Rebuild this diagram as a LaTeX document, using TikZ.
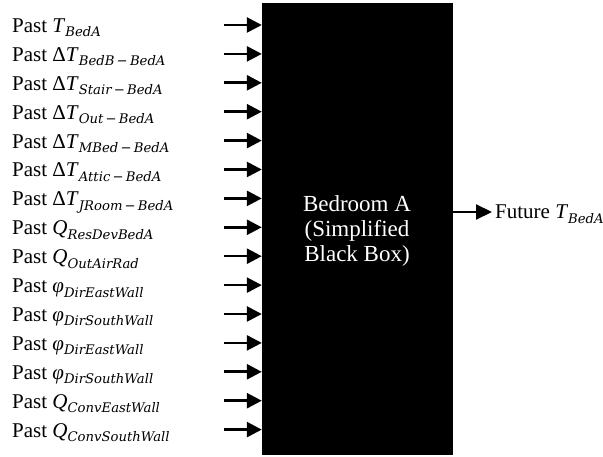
\documentclass[tikz,border=0pt]{standalone}
\usepackage{fontspec}
\setmainfont{Liberation Serif}
\newfontfamily\subf{DejaVu Serif}
\usetikzlibrary{arrows.meta}
\newcommand\sbs[1]{\raisebox{-4.5pt}{\fontsize{13.2}{14}\selectfont\subf\itshape #1}}
\newcommand\mi[1]{\textit{#1}}
\newcommand\mn{\,−\,}
\tikzset{
  lbl/.style={anchor=base west, inner sep=0pt, font=\fontsize{21}{24}\selectfont},
  arr/.style={line width=2.6pt, -{Triangle[length=15pt,width=15pt]}},
  oarr/.style={line width=2.1pt, -{Triangle[length=16pt,width=15pt]}},
  bbox/.style={fill=black, draw=none, minimum width=191pt, minimum height=452pt, inner sep=0pt},
  btext/.style={text=white, align=center, font=\fontsize{23}{25.5}\selectfont, anchor=base, inner sep=0pt}
}
\begin{document}
\begin{tikzpicture}[x=1pt,y=-1pt]
\useasboundingbox (0,0) rectangle (603,457);
\node[bbox] (box) at (357.5,229) {};
\node[btext] (bt) at (357,262) {Bedroom A\\(Simplified\\Black Box)};
\foreach \t [count=\i from 0] in {
  Past \mi{T}\sbs{BedA},
  Past Δ\mi{T}\sbs{BedB\mn BedA},
  Past Δ\mi{T}\sbs{Stair\mn BedA},
  Past Δ\mi{T}\sbs{Out\mn BedA},
  Past Δ\mi{T}\sbs{MBed\mn BedA},
  Past Δ\mi{T}\sbs{Attic\mn BedA},
  Past Δ\mi{T}\sbs{JRoom\mn BedA},
  Past \mi{Q}\sbs{ResDevBedA},
  Past \mi{Q}\sbs{OutAirRad},
  Past \mi{φ}\sbs{DirEastWall},
  Past \mi{φ}\sbs{DirSouthWall},
  Past \mi{φ}\sbs{DirEastWall},
  Past \mi{φ}\sbs{DirSouthWall},
  Past \mi{Q}\sbs{ConvEastWall},
  Past \mi{Q}\sbs{ConvSouthWall}} {
  \pgfmathsetmacro\yy{25+28.9*\i}
  \node[lbl] (l\i) at (12,\yy+7.5) {\t};
  \coordinate (s\i) at (224,\yy);
  \draw[arr] (s\i) -- (s\i -| box.west);
}
\node[lbl] (fut) at (495,219) {Future \mi{T}\sbs{BedA}};
\coordinate (o) at (492,212);
\draw[oarr] (o -| box.east) -- (o);
\end{tikzpicture}
\end{document}
